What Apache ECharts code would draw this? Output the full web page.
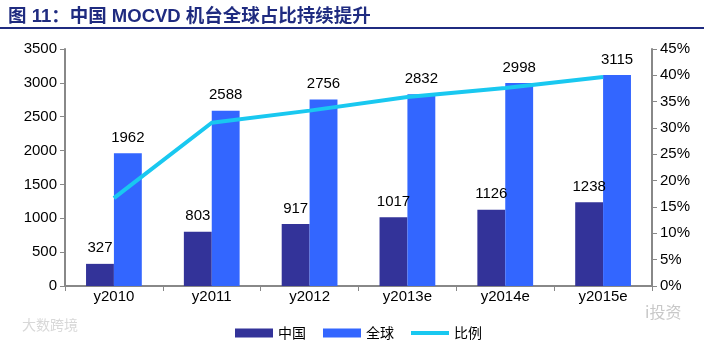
<!DOCTYPE html>
<html><head><meta charset="utf-8">
<script src="https://cdn.jsdelivr.net/npm/echarts@6/dist/echarts.min.js"></script>
<style>html,body{margin:0;padding:0;background:#fff}#c{width:704px;height:342px}</style>
</head><body><div id="c"></div>
<script>
const categories = ['y2010','y2011','y2012','y2013e','y2014e','y2015e'];
const chinaValues = [327, 803, 917, 1017, 1126, 1238];
const globalValues = [1962, 2588, 2756, 2832, 2998, 3115];
const ratioValues = [16.7, 31.0, 33.3, 35.9, 37.6, 39.7];
const leftTicks = [0, 3500, 500];
const rightTicks = [0, 45, 5];

const chart = echarts.init(document.getElementById('c'));
const font = 'Liberation Sans, Arial, sans-serif';
chart.setOption({
  animation: false,
  title: {
    text: '图 11：中国 MOCVD 机台全球占比持续提升',
    left: 3, top: 3,
    textStyle: {color: '#1F2B80', fontSize: 18.5, fontWeight: 'bold', fontFamily: 'Liberation Sans, Noto Sans CJK SC, sans-serif'}
  },
  graphic: [
    {type: 'rect', shape: {x: 0, y: 27, width: 704, height: 2}, style: {fill: '#1F2B80'}},
    {type: 'text', left: 22, top: 318, style: {text: '大数跨境', fill: '#d8d8d8', font: '14px Noto Sans CJK SC'}},
    {type: 'text', left: 645, top: 304, style: {text: 'i投资', fill: '#c8c8c8', font: '16px Noto Sans CJK SC'}}
  ],
  legend: {
    top: 321, left: 230, itemGap: 17,
    itemWidth: 38, itemHeight: 9,
    textStyle: {fontSize: 14, color: '#000', fontFamily: 'Noto Sans CJK SC'},
    data: [
      {name: '中国', icon: 'rect'},
      {name: '全球', icon: 'rect'},
      {name: '比例', icon: 'path://M0 0h38v4H0z'}
    ]
  },
  grid: {left: 65, right: 52, top: 49, bottom: 56},
  xAxis: {
    type: 'category', data: categories,
    axisLine: {lineStyle: {color: '#888', width: 2}},
    axisTick: {show: true, length: 5, lineStyle: {color: '#888'}},
    axisLabel: {color: '#000', fontSize: 15, fontFamily: font, margin: 3}
  },
  yAxis: [
    {
      type: 'value', min: leftTicks[0], max: leftTicks[1], interval: leftTicks[2],
      splitLine: {show: false},
      axisLine: {show: true, lineStyle: {color: '#888', width: 2}},
      axisTick: {show: true, length: 5, lineStyle: {color: '#888'}},
      axisLabel: {color: '#000', fontSize: 15, fontFamily: font, margin: 8, formatter: v => String(v)}
    },
    {
      type: 'value', min: rightTicks[0], max: rightTicks[1], interval: rightTicks[2],
      splitLine: {show: false},
      axisLine: {show: true, lineStyle: {color: '#888', width: 2}},
      axisTick: {show: true, length: 5, lineStyle: {color: '#888'}},
      axisLabel: {color: '#000', fontSize: 15, fontFamily: font, margin: 8, formatter: '{value}%'}
    }
  ],
  series: [
    {
      name: '中国', type: 'bar', data: chinaValues, barGap: '0%', barCategoryGap: '43%',
      itemStyle: {color: '#333399'},
      label: {show: true, position: 'top', distance: 8, color: '#000', fontSize: 15, fontFamily: font}
    },
    {
      name: '全球', type: 'bar', data: globalValues,
      itemStyle: {color: '#3366FF'},
      label: {show: true, position: 'top', distance: 8, color: '#000', fontSize: 15, fontFamily: font}
    },
    {
      name: '比例', type: 'line', yAxisIndex: 1, data: ratioValues,
      symbol: 'none', lineStyle: {color: '#19C8F0', width: 4}, itemStyle: {color: '#19C8F0'}
    }
  ]
});
</script></body></html>
